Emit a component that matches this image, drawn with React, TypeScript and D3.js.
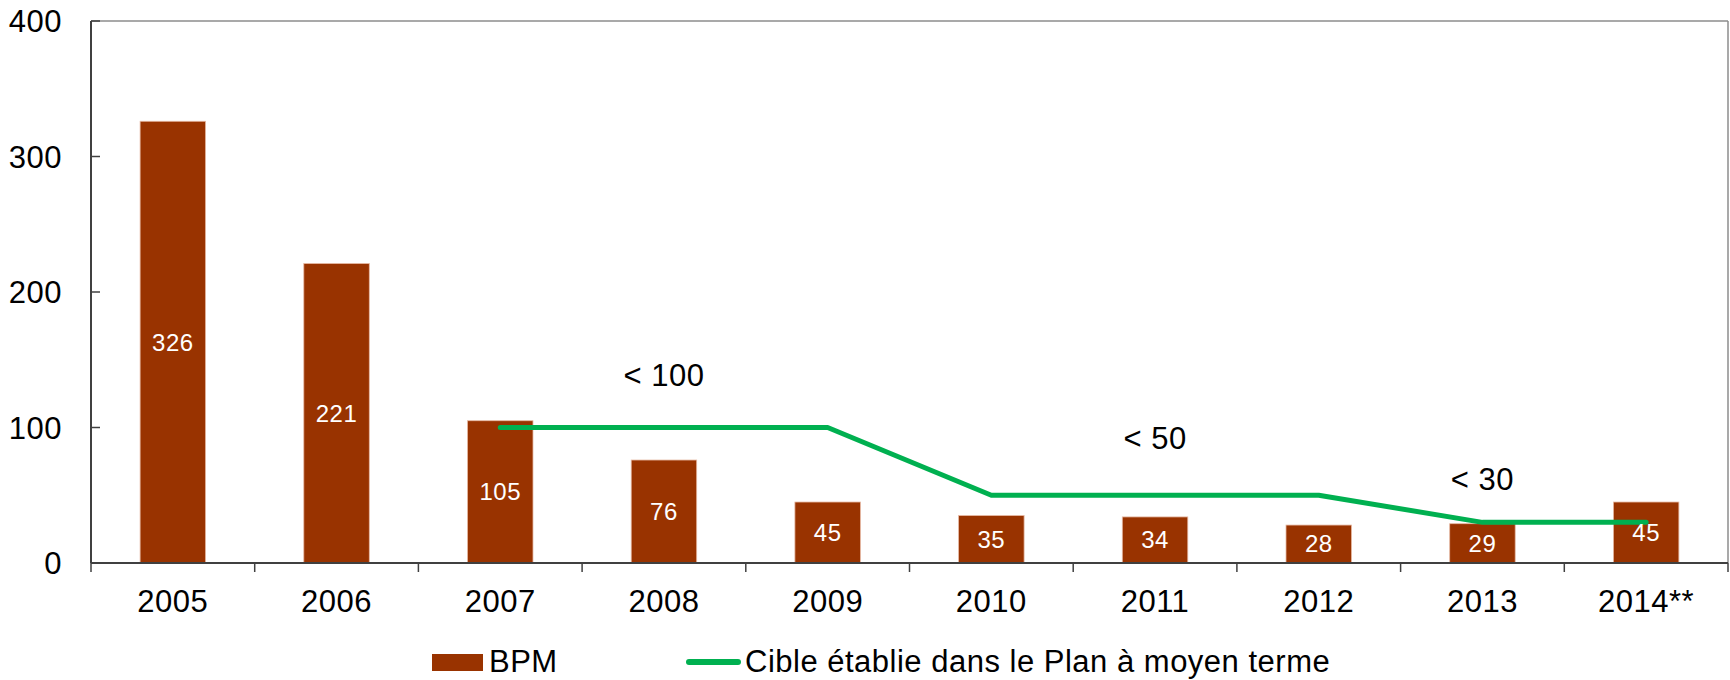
import React from "react";
import * as d3 from "d3";

const years = ["2005", "2006", "2007", "2008", "2009", "2010", "2011", "2012", "2013", "2014**"];
const bpmValues = [326, 221, 105, 76, 45, 35, 34, 28, 29, 45];
const targetYears = ["2007", "2008", "2009", "2010", "2011", "2012", "2013", "2014**"];
const targetValues = [100, 100, 100, 50, 50, 50, 30, 30];
const yTicks = [0, 100, 200, 300, 400];
const annotations = [
  { year: "2008", value: 139, text: "< 100" },
  { year: "2011", value: 92, text: "< 50" },
  { year: "2013", value: 62, text: "< 30" },
];
const legendBar = "BPM";
const legendLine = "Cible établie dans le Plan à moyen terme";

const W = 1730;
const H = 680;
const left = 91;
const right = 1728;
const top = 21;
const bottom = 563;
const FONT = "'Liberation Sans', Arial, sans-serif";
const BAR = "#993300";
const GREEN = "#00b050";
const FS = 31;
const LS = 0.5;

export default function App() {
  const x = d3.scaleBand<string>().domain(years).range([left, right]).paddingInner(0).paddingOuter(0);
  const y = d3.scaleLinear().domain([0, 400]).range([bottom, top]);
  const bw = x.bandwidth();
  const barW = bw * 0.4;
  const cx = (c: string) => (x(c) as number) + bw / 2;

  const line = d3
    .line<number>()
    .x((_, i) => cx(targetYears[i]))
    .y((d) => y(d));

  return (
    <svg width={W} height={H} style={{ position: "absolute", left: 0, top: 0, background: "#fff" }} fontFamily={FONT}>
      {/* plot frame */}
      <line x1={left} x2={right} y1={top} y2={top} stroke="#8c8c8c" strokeWidth={1.5} />
      <line x1={right} x2={right} y1={top} y2={bottom} stroke="#8c8c8c" strokeWidth={1.5} />

      {/* bars */}
      {years.map((c, i) => (
        <rect
          key={c}
          x={cx(c) - barW / 2}
          y={y(bpmValues[i])}
          width={barW}
          height={bottom - y(bpmValues[i])}
          fill={BAR}
          stroke="#e6b8a2"
          strokeWidth={0.8}
        />
      ))}

      {/* target line */}
      <path d={line(targetValues) || ""} fill="none" stroke={GREEN} strokeWidth={5} strokeLinecap="round" strokeLinejoin="round" />

      {/* bar labels */}
      {years.map((c, i) => (
        <text
          key={"l" + c}
          x={cx(c)}
          y={(y(bpmValues[i]) + bottom) / 2}
          dy="0.35em"
          textAnchor="middle"
          fill="#fff"
          fontSize={24}
          letterSpacing={LS}
        >
          {bpmValues[i]}
        </text>
      ))}

      {/* annotations */}
      {annotations.map((a) => (
        <text key={a.text} x={cx(a.year)} y={y(a.value)} dy="0.35em" textAnchor="middle" fontSize={FS} letterSpacing={LS} fill="#000">
          {a.text}
        </text>
      ))}

      {/* y axis */}
      <line x1={left} x2={left} y1={top} y2={bottom} stroke="#404040" strokeWidth={2} />
      {yTicks.map((t) => (
        <g key={"y" + t}>
          <line x1={left} x2={left + 9} y1={y(t)} y2={y(t)} stroke="#404040" strokeWidth={1.5} />
          <text x={62} y={y(t)} dy="0.36em" textAnchor="end" fontSize={FS} letterSpacing={LS} fill="#000">
            {t}
          </text>
        </g>
      ))}

      {/* x axis */}
      <line x1={left} x2={right} y1={bottom} y2={bottom} stroke="#404040" strokeWidth={2} />
      {years.map((c) => (
        <line key={"t" + c} x1={x(c) as number} x2={x(c) as number} y1={bottom} y2={bottom + 9} stroke="#404040" strokeWidth={1.5} />
      ))}
      <line x1={right} x2={right} y1={bottom} y2={bottom + 9} stroke="#404040" strokeWidth={1.5} />
      {years.map((c) => (
        <text key={"x" + c} x={cx(c)} y={612} textAnchor="middle" fontSize={FS} letterSpacing={LS} fill="#000">
          {c}
        </text>
      ))}

      {/* legend */}
      <rect x={432} y={654} width={51} height={17} fill={BAR} />
      <text x={489} y={672} fontSize={FS} letterSpacing={LS} fill="#000">
        {legendBar}
      </text>
      <line x1={689} x2={738} y1={662} y2={662} stroke={GREEN} strokeWidth={6} strokeLinecap="round" />
      <text x={745} y={672} fontSize={FS} letterSpacing={LS} fill="#000">
        {legendLine}
      </text>
    </svg>
  );
}
